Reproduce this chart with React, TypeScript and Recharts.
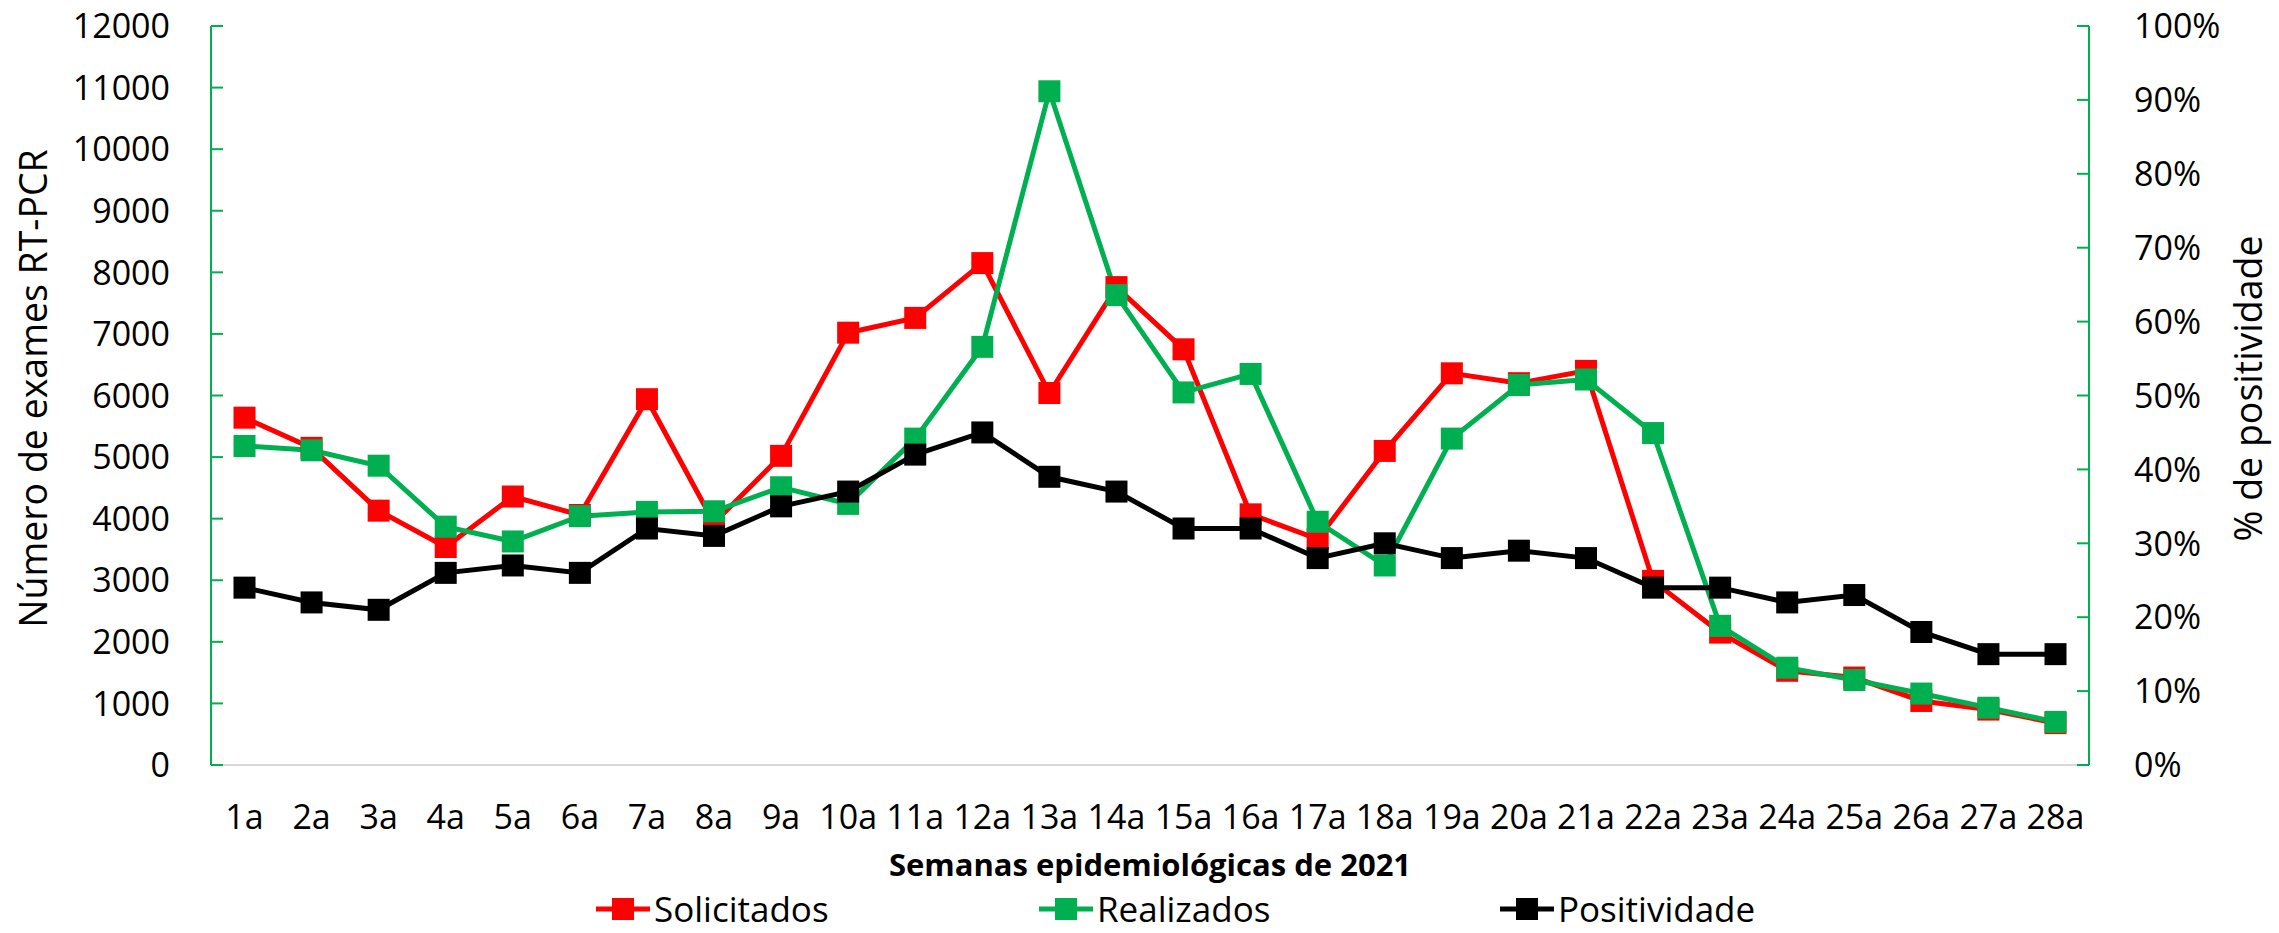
import { LineChart, Line, XAxis, YAxis } from "recharts";

const WEEKS = [
  "1a", "2a", "3a", "4a", "5a", "6a", "7a", "8a", "9a", "10a", "11a", "12a", "13a", "14a",
  "15a", "16a", "17a", "18a", "19a", "20a", "21a", "22a", "23a", "24a", "25a", "26a", "27a", "28a",
];

const SOLICITADOS = [
  5640, 5150, 4130, 3540, 4360, 4060, 5940, 3930, 5020, 7020, 7260, 8150, 6040, 7760,
  6750, 4070, 3670, 5100, 6360, 6200, 6400, 2990, 2150, 1530, 1420, 1040, 900, 680,
];

const REALIZADOS = [
  5180, 5110, 4860, 3870, 3630, 4040, 4110, 4120, 4510, 4240, 5300, 6790, 10940, 7630,
  6050, 6350, 3950, 3240, 5300, 6170, 6260, 5390, 2260, 1580, 1380, 1160, 930, 700,
];

// % de positividade
const POSITIVIDADE = [
  24, 22, 21, 26, 27, 26, 32, 31, 35, 37, 42, 45, 39, 37,
  32, 32, 28, 30, 28, 29, 28, 24, 24, 22, 23, 18, 15, 15,
];

const LEFT_TICKS = [0, 1000, 2000, 3000, 4000, 5000, 6000, 7000, 8000, 9000, 10000, 11000, 12000];
const RIGHT_TICKS = [0, 10, 20, 30, 40, 50, 60, 70, 80, 90, 100];

const SERIES = [
  { key: "solicitados", name: "Solicitados", color: "#FF0000", axis: "left" },
  { key: "realizados", name: "Realizados", color: "#00B050", axis: "left" },
  { key: "positividade", name: "Positividade", color: "#000000", axis: "right" },
];

const data = WEEKS.map((week, i) => ({
  week,
  solicitados: SOLICITADOS[i],
  realizados: REALIZADOS[i],
  positividade: POSITIVIDADE[i],
}));

const FONT = "'Open Sans', sans-serif";
const GREEN = "#00B050";
const TICK_FONT = 34;
const TITLE_FONT = 37.5;
const LEFT_MARGIN = 41;
const RIGHT_MARGIN = 45;
const TICK_LEN = 12;

function LeftTick(props: any) {
  const { x, y, payload } = props;
  const ax = x + LEFT_MARGIN;
  return (
    <g>
      <line x1={ax} x2={ax + TICK_LEN} y1={y} y2={y} stroke={GREEN} strokeWidth={2} />
      <text x={x} y={y} dy="0.36em" textAnchor="end" fontSize={TICK_FONT} fontFamily={FONT} fill="#000">
        {payload.value}
      </text>
    </g>
  );
}

function RightTick(props: any) {
  const { x, y, payload } = props;
  const ax = x - RIGHT_MARGIN;
  return (
    <g>
      <line x1={ax - TICK_LEN} x2={ax} y1={y} y2={y} stroke={GREEN} strokeWidth={2} />
      <text x={x} y={y} dy="0.36em" textAnchor="start" fontSize={TICK_FONT} fontFamily={FONT} fill="#000">
        {payload.value}%
      </text>
    </g>
  );
}

const squareDot = (color: string) => (p: any) => {
  if (p.cx == null || p.cy == null) return <g key={`${color}-${p.index}`} />;
  return (
    <rect key={`${color}-${p.index}`} x={p.cx - 11} y={p.cy - 11} width={22} height={22} fill={color} />
  );
};

const axisTitle = (text: string, dx: number) => (p: any) => {
  const vb = p.viewBox || { x: 0, y: 26, width: 211, height: 739 };
  const cx = vb.x + dx;
  const cy = vb.y + vb.height / 2 - 7;
  return (
    <text
      transform={`translate(${cx}, ${cy}) rotate(-90)`}
      textAnchor="middle"
      dy="0.36em"
      fontSize={TITLE_FONT}
      fontFamily={FONT}
      fill="#000"
    >
      {text}
    </text>
  );
};

function LegendIcon({ color }: { color: string }) {
  return (
    <svg width={54} height={26} style={{ display: "block" }}>
      <line x1={0} x2={54} y1={13} y2={13} stroke={color} strokeWidth={5} />
      <rect x={16} y={2} width={22} height={22} fill={color} />
    </svg>
  );
}

const LEGEND_LEFT = [596, 1039, 1500];

export default function App() {
  return (
    <div style={{ position: "relative", width: 2279, height: 933, background: "#fff", overflow: "hidden" }}>
      <style>{"body{margin:0;background:#fff}"}</style>
      <LineChart
        width={2279}
        height={933}
        data={data}
        margin={{ top: 26, right: 0, bottom: 0, left: 0 }}
      >
        <XAxis
          dataKey="week"
          height={168}
          interval={0}
          padding={{ left: 33.5, right: 33.5 }}
          tickLine={false}
          tickSize={0}
          tickMargin={40}
          axisLine={{ stroke: "#D9D9D9", strokeWidth: 2 }}
          tick={{ fontSize: TICK_FONT, fontFamily: FONT, fill: "#000" }}
          label={{
            value: "Semanas epidemiológicas de 2021",
            position: "insideTop",
            offset: 89,
            style: { fontSize: 31, fontWeight: 700, fontFamily: FONT, fill: "#000" },
          }}
        />
        <YAxis
          yAxisId="left"
          width={211}
          domain={[0, 12000]}
          ticks={LEFT_TICKS}
          interval={0}
          tickSize={0}
          tickMargin={LEFT_MARGIN}
          tickLine={false}
          axisLine={{ stroke: GREEN, strokeWidth: 2 }}
          tick={<LeftTick />}
          label={{ content: axisTitle("Número de exames RT-PCR", 33) }}
        />
        <YAxis
          yAxisId="right"
          orientation="right"
          width={190}
          domain={[0, 100]}
          ticks={RIGHT_TICKS}
          interval={0}
          tickSize={0}
          tickMargin={RIGHT_MARGIN}
          tickLine={false}
          axisLine={{ stroke: GREEN, strokeWidth: 2 }}
          tick={<RightTick />}
          label={{ content: axisTitle("% de positividade", 159) }}
        />
        {SERIES.map((s) => (
          <Line
            key={s.key}
            yAxisId={s.axis}
            dataKey={s.key}
            name={s.name}
            stroke={s.color}
            strokeWidth={5}
            type="linear"
            dot={squareDot(s.color)}
            activeDot={false}
            isAnimationActive={false}
          />
        ))}
      </LineChart>
      {SERIES.map((s, i) => (
        <div
          key={s.key}
          style={{
            position: "absolute",
            left: LEGEND_LEFT[i],
            top: 890,
            display: "flex",
            alignItems: "center",
            gap: 4,
            fontFamily: FONT,
            fontSize: 35,
            lineHeight: "38px",
            color: "#000",
            whiteSpace: "nowrap",
          }}
        >
          <LegendIcon color={s.color} />
          <span>{s.name}</span>
        </div>
      ))}
    </div>
  );
}
